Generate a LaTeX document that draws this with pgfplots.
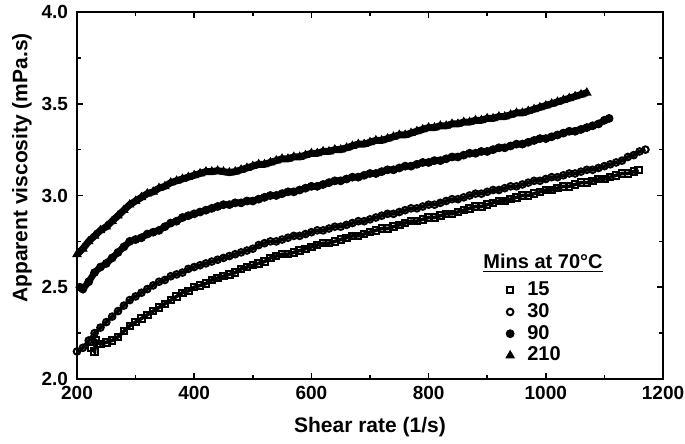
\documentclass[border=0pt]{standalone}
\usepackage{fontspec}
\setmainfont{Liberation Sans}
\usepackage{pgfplots}
\usepackage{pgfplotstable}
\pgfplotsset{compat=1.18}
\usetikzlibrary{calc}
\pgfplotstableread{
x y
225 2.17
230 2.15
232 2.21
240 2.19
250 2.20
260 2.21
270 2.23
280 2.26
290 2.29
300 2.31
310 2.33
320 2.35
330 2.37
340 2.39
350 2.41
360 2.43
370 2.45
380 2.47
390 2.48
400 2.50
410 2.51
420 2.52
430 2.54
440 2.55
450 2.56
460 2.57
470 2.58
480 2.60
490 2.61
500 2.62
510 2.63
520 2.64
530 2.66
540 2.67
550 2.68
560 2.68
570 2.69
580 2.70
590 2.71
600 2.72
610 2.73
620 2.74
630 2.74
640 2.75
650 2.76
660 2.77
670 2.78
680 2.78
690 2.79
700 2.80
710 2.81
720 2.82
730 2.82
740 2.83
750 2.84
760 2.85
770 2.86
780 2.86
790 2.87
800 2.88
810 2.88
820 2.89
830 2.90
840 2.90
850 2.91
860 2.92
870 2.93
880 2.94
890 2.94
900 2.95
910 2.96
920 2.97
930 2.97
940 2.98
950 2.99
960 3.00
970 3.00
980 3.01
990 3.02
1000 3.03
1010 3.03
1020 3.04
1030 3.05
1040 3.05
1050 3.06
1060 3.07
1070 3.07
1080 3.08
1090 3.09
1100 3.09
1110 3.10
1120 3.11
1130 3.12
1140 3.12
1150 3.13
1158 3.14
}\tA
\pgfplotstableread{
x y
200 2.15
210 2.17
220 2.21
230 2.25
240 2.28
250 2.31
260 2.34
270 2.37
280 2.40
290 2.43
300 2.45
310 2.47
320 2.49
330 2.51
340 2.53
350 2.54
360 2.56
370 2.57
380 2.58
390 2.60
400 2.61
410 2.62
420 2.63
430 2.64
440 2.65
450 2.66
460 2.67
470 2.68
480 2.69
490 2.70
500 2.71
510 2.73
520 2.74
530 2.75
540 2.75
550 2.76
560 2.77
570 2.78
580 2.78
590 2.79
600 2.80
610 2.81
620 2.81
630 2.82
640 2.83
650 2.83
660 2.84
670 2.85
680 2.86
690 2.86
700 2.87
710 2.88
720 2.89
730 2.90
740 2.90
750 2.91
760 2.92
770 2.93
780 2.93
790 2.94
800 2.95
810 2.95
820 2.96
830 2.97
840 2.98
850 2.98
860 2.99
870 3.00
880 3.01
890 3.01
900 3.02
910 3.03
920 3.03
930 3.04
940 3.05
950 3.05
960 3.06
970 3.07
980 3.08
990 3.08
1000 3.09
1010 3.10
1020 3.10
1030 3.11
1040 3.12
1050 3.12
1060 3.13
1070 3.14
1080 3.14
1090 3.15
1100 3.16
1110 3.17
1120 3.18
1130 3.19
1140 3.21
1150 3.22
1160 3.24
1170 3.25
}\tB
\pgfplotstableread{
x y
205 2.50
210 2.49
220 2.53
230 2.58
240 2.61
250 2.63
260 2.66
270 2.69
280 2.72
290 2.75
300 2.76
310 2.77
320 2.79
330 2.80
340 2.81
350 2.83
360 2.85
370 2.86
380 2.88
390 2.89
400 2.90
410 2.91
420 2.92
430 2.93
440 2.94
450 2.95
460 2.95
470 2.96
480 2.96
490 2.97
500 2.97
510 2.98
520 2.99
530 3.00
540 3.00
550 3.01
560 3.02
570 3.02
580 3.03
590 3.04
600 3.05
610 3.05
620 3.06
630 3.07
640 3.08
650 3.08
660 3.09
670 3.10
680 3.10
690 3.11
700 3.12
710 3.12
720 3.13
730 3.14
740 3.14
750 3.15
760 3.16
770 3.16
780 3.17
790 3.18
800 3.18
810 3.19
820 3.19
830 3.20
840 3.21
850 3.21
860 3.22
870 3.23
880 3.23
890 3.24
900 3.24
910 3.25
920 3.26
930 3.26
940 3.27
950 3.28
960 3.28
970 3.29
980 3.30
990 3.31
1000 3.31
1010 3.32
1020 3.33
1030 3.34
1040 3.35
1050 3.35
1060 3.36
1070 3.37
1080 3.38
1090 3.39
1100 3.41
1108 3.42
}\tC
\pgfplotstableread{
x y
200 2.68
210 2.71
220 2.75
230 2.78
240 2.81
250 2.83
260 2.86
270 2.89
280 2.92
290 2.95
300 2.97
310 2.99
320 3.01
330 3.02
340 3.04
350 3.05
360 3.07
370 3.08
380 3.09
390 3.10
400 3.11
410 3.12
420 3.13
430 3.13
440 3.135
450 3.13
460 3.125
470 3.13
480 3.14
490 3.15
500 3.16
510 3.17
520 3.17
530 3.18
540 3.19
550 3.20
560 3.20
570 3.21
580 3.21
590 3.22
600 3.23
610 3.23
620 3.24
630 3.24
640 3.25
650 3.25
660 3.26
670 3.27
680 3.28
690 3.28
700 3.29
710 3.30
720 3.30
730 3.31
740 3.32
750 3.33
760 3.33
770 3.34
780 3.35
790 3.36
800 3.37
810 3.37
820 3.38
830 3.38
840 3.39
850 3.39
860 3.40
870 3.40
880 3.41
890 3.41
900 3.42
910 3.42
920 3.43
930 3.43
940 3.44
950 3.45
960 3.45
970 3.46
980 3.47
990 3.48
1000 3.49
1010 3.50
1020 3.51
1030 3.52
1040 3.53
1050 3.54
1060 3.55
1070 3.56
}\tD
\begin{document}
\begin{tikzpicture}
\begin{axis}[
  scale only axis, width=293pt, height=183.5pt,
  xmin=200, xmax=1200, ymin=2, ymax=4,
  xtick={200,400,600,800,1000,1200}, minor x tick num=1,
  ytick={2,2.5,3,3.5,4}, minor y tick num=1,
  /pgf/number format/assume math mode=true,
  xticklabel style={/pgf/number format/1000 sep={}},
  yticklabel style={/pgf/number format/fixed, /pgf/number format/fixed zerofill, /pgf/number format/precision=1, xshift=-1pt},
  tick align=inside, major tick length=3pt, minor tick length=2pt,
  axis line style={line width=1pt},
  every tick/.style={line width=0.8pt, black},
  tick label style={font=\bfseries\fontsize{9.5}{11}\selectfont},
  xlabel={Shear rate (1/s)}, ylabel={Apparent viscosity (mPa.s)},
  every axis x label/.style={at={(axis description cs:0.5,-0.1308)}, anchor=center, font=\bfseries\fontsize{10.5}{12}\selectfont},
  every axis y label/.style={at={(axis description cs:-0.0939,0.575)}, anchor=center, rotate=90, font=\bfseries\fontsize{10.5}{12}\selectfont},
  legend style={draw=none, fill=none, at={(rel axis cs:0.728,0.282)}, anchor=north west,
    font=\bfseries\fontsize{10}{11}\selectfont, row sep=-1.6pt, inner sep=1pt,
    /tikz/every odd column/.append style={column sep=4.5pt}},
  legend cell align=left,
]
% connecting bands (drawn beneath the markers)
\addplot[black, line width=1.8pt, forget plot] table[x=x,y=y] {\tA};
\addplot[black, line width=1.8pt, forget plot] table[x=x,y=y] {\tB};
\addplot[black, line width=3.3pt, forget plot] table[x=x,y=y] {\tC};
\addplot[black, line width=3.5pt, forget plot] table[x=x,y=y] {\tD};
% markers
\addplot[only marks, mark=square, mark size=1.6pt, mark options={line width=1pt, black, fill=none}] table[x=x,y=y] {\tA};
\addlegendentry{15}
\addplot[only marks, mark=o, mark size=1.65pt, mark options={line width=1pt, black, fill=none}] table[x=x,y=y] {\tB};
\addlegendentry{30}
\addplot[only marks, mark=*, mark size=2pt, mark options={black}] table[x=x,y=y] {\tC};
\addlegendentry{90}
\addplot[only marks, mark=triangle*, mark size=2.4pt, mark options={black}] table[x=x,y=y] {\tD};
\addlegendentry{210}
\node[anchor=west, font=\bfseries\fontsize{10}{12}\selectfont, inner sep=0pt] at (rel axis cs:0.693,0.316) {\underline{Mins at 70°C}};
\coordinate (sw) at (rel axis cs:0,0);
\coordinate (ne) at (rel axis cs:1,1);
\end{axis}
\pgfresetboundingbox
\path[use as bounding box] ($(sw)+(-38.5pt,-32.5pt)$) rectangle ($(ne)+(11pt,6pt)$);
\end{tikzpicture}
\end{document}
